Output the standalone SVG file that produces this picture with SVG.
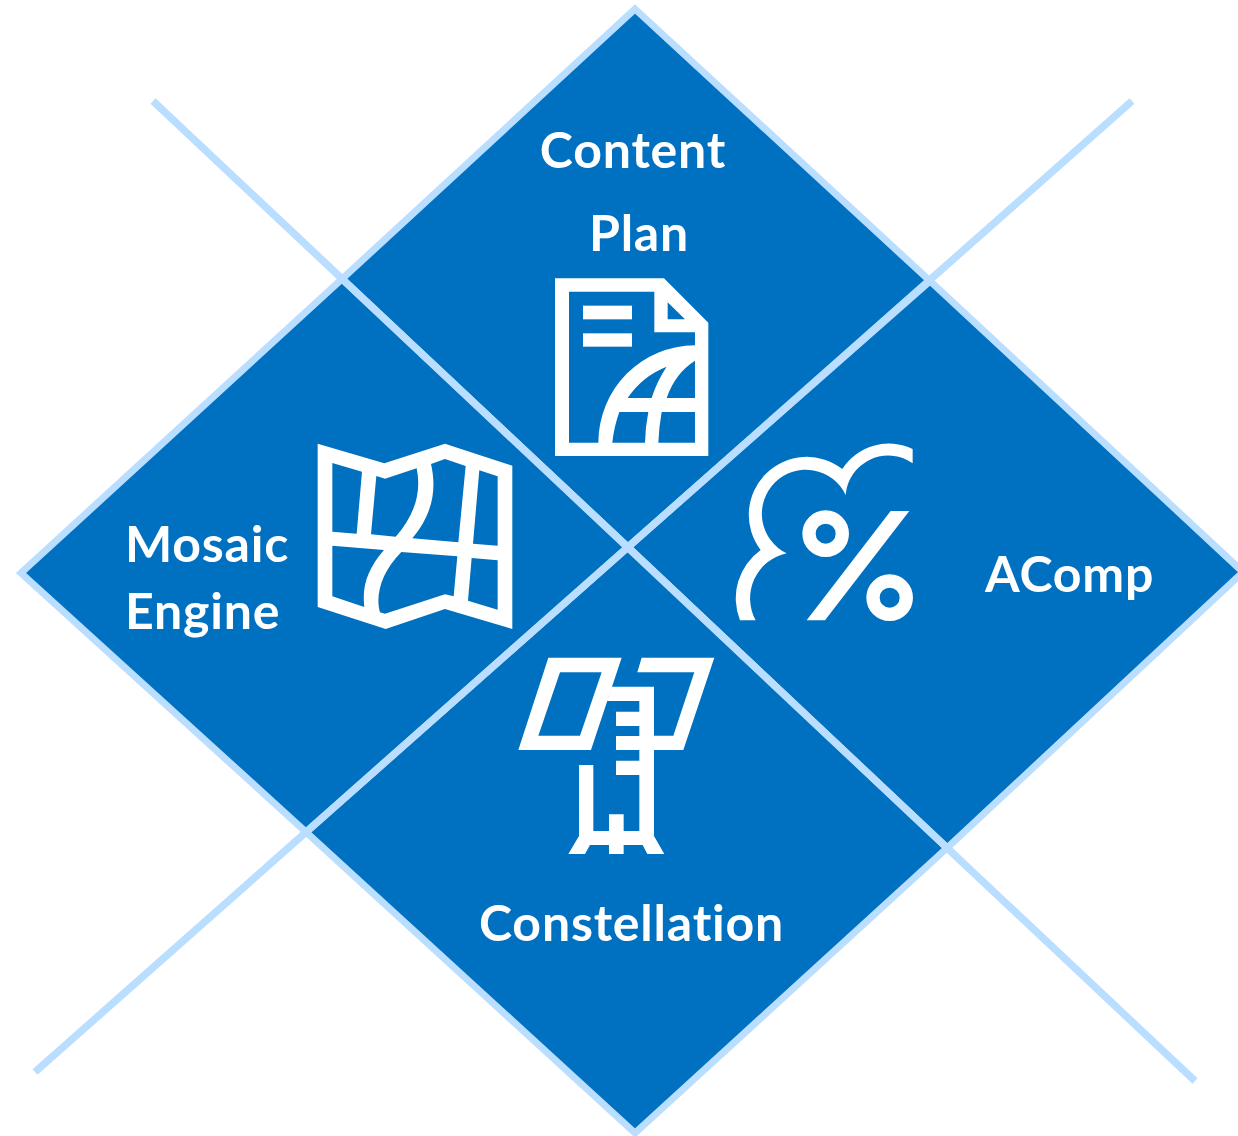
<svg xmlns="http://www.w3.org/2000/svg" width="1238" height="1136" viewBox="0 0 1238 1136">
<style>
.q{fill:#0070c0;stroke:#b9deff;stroke-width:7;stroke-linejoin:miter}
.c{fill:none;stroke:#b9deff;stroke-width:7.5}
.i{fill:#fff;fill-rule:evenodd}
.r{fill:none;stroke:#fff}
text{font-family:Lato,"Liberation Sans",sans-serif;font-weight:700;font-size:50px;letter-spacing:.8px;fill:#fff}
</style>
<rect width="1238" height="1136" fill="#fff"/>
<g id="node-content-plan">
<polygon class="q" points="635,9 930,281 628,547 342,279"/>
<text x="633" y="168" text-anchor="middle">Content</text>
<text x="639" y="251" text-anchor="middle">Plan</text>
<g transform="translate(540 270) scale(.3333)">
<path class="i" d="M45 25H372L505 158V558H45ZM87 65V518H175A290 292 0 0 1 465 226V187H343V65ZM383 97V148H435ZM380 290A250 250 0 0 0 263 384H335Q350 335 380 290ZM465 272Q405 310 380 384H465ZM238 426Q222 470 217 518H315Q316 470 325 426ZM365 426Q357 470 355 518H465V426Z"/>
<rect class="i" x="129" y="107" width="147" height="41"/>
<rect class="i" x="129" y="190" width="147" height="40"/>
</g>
</g>
<g id="node-acomp">
<polygon class="q" points="930,281 1243,572 947,848 628,547"/>
<text x="985" y="592">AComp</text>
<g transform="translate(725 435) scale(.3333)">
<path class="i" d="M563 42A166 166 0 0 0 352 102A174 174 0 0 0 107 345A178 178 0 0 0 45 556H92A138 138 0 0 1 185 355A132 132 0 1 1 362 180A128 128 0 0 1 563 85Z"/>
<circle class="r" cx="302" cy="296" r="50" stroke-width="40"/>
<circle class="r" cx="494" cy="488" r="50" stroke-width="40"/>
<polygon class="i" points="497,228 553,228 300,556 245,556"/>
</g>
</g>
<g id="node-constellation">
<polygon class="q" points="628,547 947,848 635,1133 306,832"/>
<text x="479" y="941">Constellation</text>
<g transform="translate(510 650) scale(.3333)">
<path class="i" d="M115 23H335L243 300H25ZM150 67L85 257H210L275 67Z"/>
<polygon class="i" points="395,23 613,23 520,300 432,300 432,257 490,257 553,67 382,67"/>
<polygon class="i" points="305,110 432,110 432,558 463,612 412,612 398,585 341,585 341,612 297,612 297,585 240,585 225,612 175,612 207,558 207,345 250,345 250,543 297,543 297,493 341,493 341,543 388,543 388,375 318,375 318,332 388,332 388,300 318,300 318,258 388,258 388,228 318,228 318,185 388,185 388,153 291,153"/>
</g>
</g>
<g id="node-mosaic-engine">
<polygon class="q" points="342,279 628,547 306,832 21,573"/>
<text x="125" y="562">Mosaic</text>
<text x="125" y="629">Engine</text>
<g transform="translate(305 435) scale(.3333)">
<path class="i" d="M38 26L238 85L420 26L622 92V582L420 522L242 582L38 516ZM82 84V290L155 296L171 110ZM214 123L198 298L272 305C330 240 350 170 335 100L240 131ZM378 87C395 160 385 235 322 310L460 322L482 93L420 72ZM523 106L504 326L578 332V124ZM82 332V484L178 516C170 450 190 400 237 345ZM289 351C230 410 210 480 225 532L240 536L420 478L446 484L457 364ZM500 369L489 497L578 524V376Z"/>
</g>
</g>
<g id="connectors">
<path class="c" d="M153 101L1195 1081M1132 101L35 1072"/>
</g>
</svg>
